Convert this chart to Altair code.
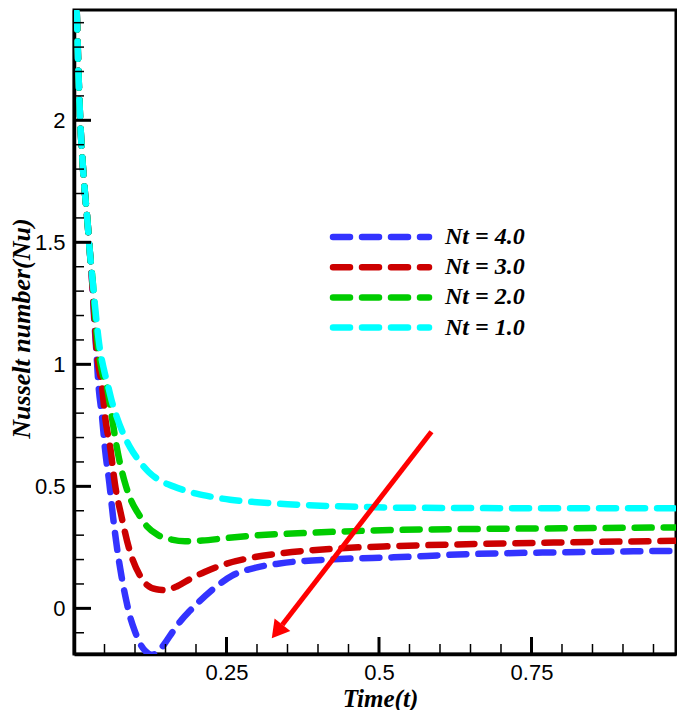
import altair as alt
import pandas as pd

# ---------------- data ----------------
series_labels = ["Nt = 4.0", "Nt = 3.0", "Nt = 2.0", "Nt = 1.0"]
series_colors = ["#3333ff", "#cc0000", "#00cc00", "#00ffff"]

# common steep start (all four curves coincide)
t_common = [0.003, 0.005, 0.0075, 0.010, 0.014, 0.018, 0.022, 0.026]
nu_common = [2.56, 2.40, 2.18, 2.01, 1.83, 1.70, 1.59, 1.46]

t_nt4 = [0.030, 0.033, 0.0365, 0.040, 0.046, 0.051, 0.058, 0.064, 0.071, 0.078,
         0.085, 0.092, 0.100, 0.108, 0.117, 0.127, 0.137, 0.149, 0.162, 0.176,
         0.190, 0.204, 0.231, 0.260, 0.300, 0.337, 0.435, 0.524, 0.643, 0.800, 1.000]
nu_nt4 = [1.33, 1.19, 1.06, 0.92, 0.785, 0.649, 0.512, 0.375, 0.239, 0.13,
          0.04, -0.035, -0.095, -0.143, -0.175, -0.19, -0.18, -0.143, -0.095, -0.048,
          -0.01, 0.025, 0.085, 0.135, 0.168, 0.184, 0.202, 0.209, 0.222, 0.230, 0.236]

t_nt3 = [0.030, 0.0335, 0.037, 0.046, 0.051, 0.060, 0.067, 0.078, 0.091, 0.108,
         0.120, 0.135, 0.150, 0.170, 0.190, 0.215, 0.240, 0.290, 0.337, 0.435,
         0.524, 0.643, 0.800, 1.000]
nu_nt3 = [1.33, 1.19, 1.06, 0.91, 0.785, 0.649, 0.512, 0.375, 0.239, 0.135,
          0.095, 0.078, 0.075, 0.092, 0.12, 0.15, 0.175, 0.207, 0.225, 0.246,
          0.255, 0.263, 0.270, 0.277]

t_nt2 = [0.031, 0.035, 0.040, 0.046, 0.054, 0.062, 0.071, 0.083, 0.094, 0.105,
         0.120, 0.138, 0.160, 0.182, 0.210, 0.250, 0.283, 0.390, 0.524, 0.644,
         0.800, 1.000]
nu_nt2 = [1.33, 1.19, 1.06, 0.97, 0.908, 0.785, 0.649, 0.519, 0.44, 0.39,
          0.335, 0.30, 0.282, 0.275, 0.278, 0.288, 0.296, 0.31, 0.321, 0.325,
          0.328, 0.332]

t_nt1 = [0.031, 0.036, 0.042, 0.049, 0.056, 0.063, 0.070, 0.080, 0.092, 0.105,
         0.122, 0.140, 0.163, 0.190, 0.220, 0.256, 0.300, 0.350, 0.450, 0.520,
         0.650, 0.800, 1.000]
nu_nt1 = [1.33, 1.20, 1.07, 0.98, 0.91, 0.84, 0.785, 0.72, 0.66, 0.61,
          0.56, 0.525, 0.50, 0.477, 0.46, 0.445, 0.435, 0.427, 0.417, 0.413,
          0.411, 0.410, 0.410]

# arrow annotation (data coordinates)
arrow_t = [0.586, 0.3415]
arrow_nu = [0.724, -0.067]
arrow_head_t = [0.333]
arrow_head_nu = [-0.095]

x_major = [0.25, 0.5, 0.75]
y_major = [0, 0.5, 1, 1.5, 2]
x_minor = [round(0.05 * i, 2) for i in range(1, 20) if round(0.05 * i, 2) not in x_major]
y_minor = [round(0.1 * i, 1) for i in range(-1, 25) if round(0.1 * i, 1) not in y_major]

# ---------------- layout ----------------
W, H = 602, 644
X_DOMAIN = [0, 0.9869]
Y_DOMAIN = [-0.187, 2.452]

xs = alt.Scale(domain=X_DOMAIN, nice=False, zero=False)
ys = alt.Scale(domain=Y_DOMAIN, nice=False, zero=False)

x_axis = alt.Axis(values=x_major, labelExpr="datum.value + ''", ticks=False, grid=False,
                  domainWidth=3.5, domainColor="black", labelFont="Liberation Sans",
                  labelFontSize=22, labelColor="black", labelPadding=8, labelFlush=False,
                  labelOverlap=False, title="Time(t)", titleFont="Liberation Serif",
                  titleFontSize=25, titleFontStyle="italic", titleFontWeight="bold",
                  titleColor="black", titleX=306, titleY=44, titleBaseline="middle",
                  titleAlign="center")
y_axis = alt.Axis(values=y_major, labelExpr="datum.value + ''", ticks=False, grid=False,
                  domainWidth=3.5, domainColor="black", labelFont="Liberation Sans",
                  labelFontSize=22, labelColor="black", labelPadding=9, labelFlush=False,
                  labelOverlap=False, title="Nusselt number(Nu)", titleFont="Liberation Serif",
                  titleFontSize=26, titleFontStyle="italic", titleFontWeight="bold",
                  titleColor="black", titleAngle=270, titleX=-53, titleY=318,
                  titleBaseline="middle", titleAlign="center")

X = lambda: alt.X("t:Q", scale=xs, axis=x_axis)
Y = lambda: alt.Y("nu:Q", scale=ys, axis=y_axis)

series_t = [t_nt4, t_nt3, t_nt2, t_nt1]
series_nu = [nu_nt4, nu_nt3, nu_nt2, nu_nt1]

layers = []
for lab, col, ts, ns in zip(series_labels, series_colors, series_t, series_nu):
    df = pd.DataFrame({"t": t_common + ts, "nu": nu_common + ns, "series": lab})
    layers.append(
        alt.Chart(df).mark_line(color=col, strokeWidth=6.5, strokeDash=[17, 12],
                                strokeCap="round", clip=True, interpolate="monotone")
        .encode(x=X(), y=Y())
    )

# inward ticks
def xticks(vals, length, width):
    return alt.Chart(pd.DataFrame({"t": vals})).mark_rule(color="black", strokeWidth=width).encode(
        x=X(), y=alt.value(H), y2=alt.value(H - length))

def yticks(vals, length, width):
    return alt.Chart(pd.DataFrame({"nu": vals})).mark_rule(color="black", strokeWidth=width).encode(
        y=Y(), x=alt.value(0), x2=alt.value(length))

layers += [xticks(x_minor, 10, 1.5), xticks(x_major, 17, 3),
           yticks(y_minor, 10, 1.5), yticks(y_major, 17, 3)]

# arrow
arrow_df = pd.DataFrame({"t": arrow_t, "nu": arrow_nu})
layers.append(alt.Chart(arrow_df).mark_line(color="#ff0000", strokeWidth=5, clip=True).encode(
    x=X(), y=Y()))
head_df = pd.DataFrame({"t": arrow_head_t, "nu": arrow_head_nu})
layers.append(alt.Chart(head_df).mark_point(shape="triangle-up", size=400, angle=218, filled=True,
                                            color="#ff0000", opacity=1, strokeWidth=0).encode(
    x=X(), y=Y()))

# legend drawn inside the plot
LEG_X1, LEG_X2, LEG_TX = 259, 355, 371
LEG_Y0, LEG_DY = 227, 30.2
for i, (lab, col) in enumerate(zip(series_labels, series_colors)):
    yy = LEG_Y0 + i * LEG_DY
    ldf = pd.DataFrame({"label": [lab]})
    layers.append(alt.Chart(ldf).mark_rule(color=col, strokeWidth=6.5, strokeDash=[17, 12],
                                           strokeCap="round").encode(
        x=alt.value(LEG_X1), x2=alt.value(LEG_X2), y=alt.value(yy)))
    layers.append(alt.Chart(ldf).mark_text(align="left", baseline="middle", font="Liberation Serif",
                                           fontSize=24, fontStyle="italic", fontWeight="bold",
                                           color="black").encode(
        x=alt.value(LEG_TX), y=alt.value(yy), text="label:N"))

chart = alt.layer(*layers).properties(
    width=W, height=H,
    padding={"left": 66, "top": 2, "right": 1, "bottom": 56},
    autosize=alt.AutoSizeParams(type="none"),
).configure_view(stroke="black", strokeWidth=3)

chart.save("out.html", embed_options={"renderer": "svg", "actions": False})
